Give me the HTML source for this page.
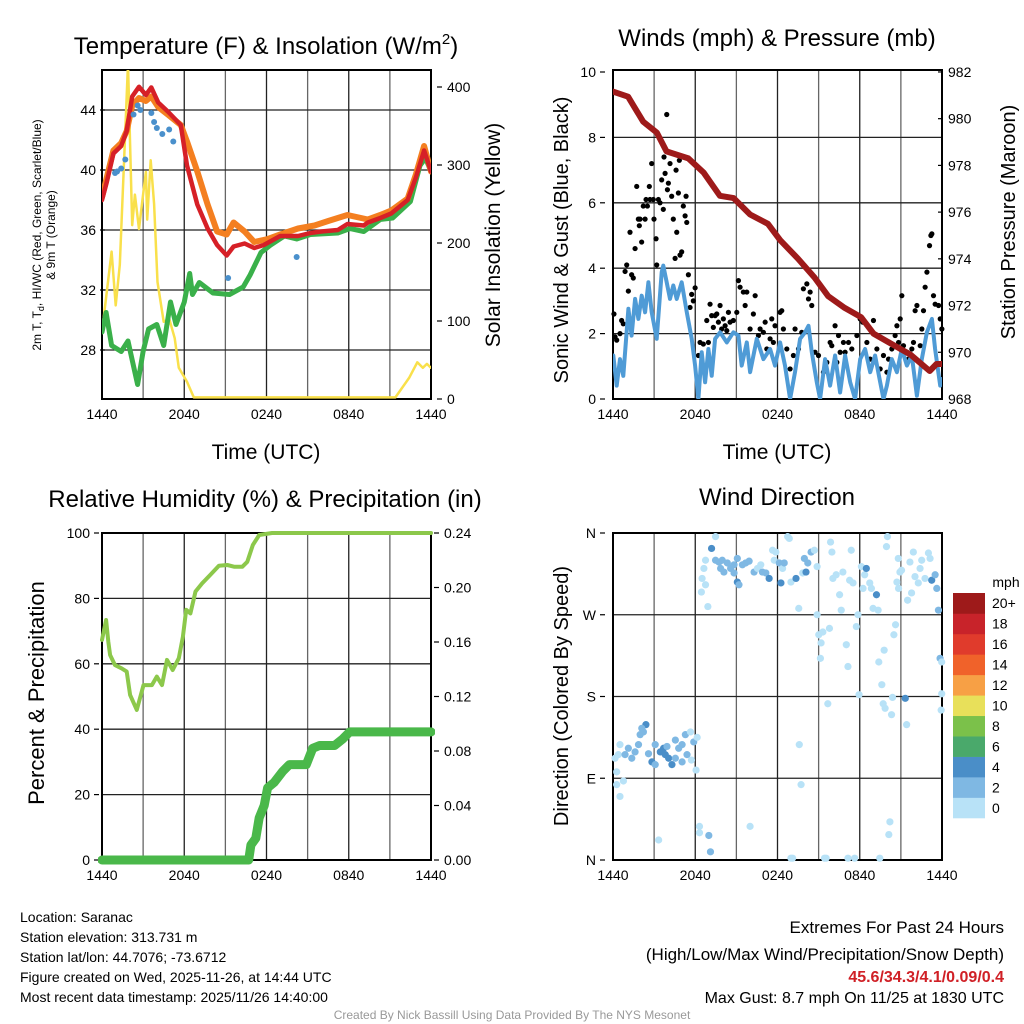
<!DOCTYPE html>
<html><head><meta charset="utf-8">
<style>
html,body{margin:0;padding:0;background:#fff;}
svg{display:block;font-family:"Liberation Sans",sans-serif;}
</style></head>
<body>
<svg id="chart" width="1024" height="1024" viewBox="0 0 1024 1024" xmlns="http://www.w3.org/2000/svg">
<defs>
<clipPath id="c1"><rect x="102" y="70" width="329" height="329"/></clipPath>
<clipPath id="c2"><rect x="613" y="70" width="329" height="329"/></clipPath>
<clipPath id="c3"><rect x="98" y="529" width="337" height="337"/></clipPath>
<clipPath id="c4"><rect x="608" y="529" width="340" height="337"/></clipPath>
</defs>
<g font-size="24" text-anchor="middle" fill="#000">
<text x="266" y="54">Temperature (F) &amp; Insolation (W/m<tspan font-size="15" dy="-10">2</tspan><tspan dy="10">)</tspan></text>
<text x="777" y="46">Winds (mph) &amp; Pressure (mb)</text>
<text x="265" y="507">Relative Humidity (%) &amp; Precipitation (in)</text>
<text x="777" y="505">Wind Direction</text>
</g>
<g font-size="21" text-anchor="middle">
<text x="266" y="459">Time (UTC)</text>
<text x="777" y="459">Time (UTC)</text>
<text transform="translate(500,235) rotate(-90)">Solar Insolation (Yellow)</text>
<text transform="translate(568,240) rotate(-90)" font-size="20">Sonic Wind &amp; Gust (Blue, Black)</text>
<text transform="translate(1015,222) rotate(-90)" font-size="20">Station Pressure (Maroon)</text>
<text transform="translate(568,696) rotate(-90)" font-size="20">Direction (Colored By Speed)</text>
<text transform="translate(44,693) rotate(-90)" font-size="22">Percent &amp; Precipitation</text>
</g>
<g font-size="12" text-anchor="middle">
<text transform="translate(41,235) rotate(-90)">2m T, T<tspan font-size="9" dy="3">d</tspan><tspan dy="-3">, HI/WC (Red, Green, Scarlet/Blue)</tspan></text>
<text transform="translate(55,235) rotate(-90)">&amp; 9m T (Orange)</text>
</g>
<g font-size="14" fill="#000">
<text x="20" y="922">Location: Saranac</text>
<text x="20" y="942">Station elevation: 313.731 m</text>
<text x="20" y="962">Station lat/lon: 44.7076; -73.6712</text>
<text x="20" y="982">Figure created on Wed, 2025-11-26, at 14:44 UTC</text>
<text x="20" y="1002">Most recent data timestamp: 2025/11/26 14:40:00</text>
</g>
<g text-anchor="end">
<text x="1004" y="933" font-size="17">Extremes For Past 24 Hours</text>
<text x="1004" y="960" font-size="17">(High/Low/Max Wind/Precipitation/Snow Depth)</text>
<text x="1004" y="982" font-size="16" font-weight="bold" fill="#d02026">45.6/34.3/4.1/0.09/0.4</text>
<text x="1004" y="1003" font-size="16">Max Gust: 8.7 mph On 11/25 at 1830 UTC</text>
</g>
<text x="512" y="1019" font-size="12" fill="#999" text-anchor="middle">Created By Nick Bassill Using Data Provided By The NYS Mesonet</text>
<g id="g1"></g><g id="g2"></g><g id="g3"></g><g id="g4"></g>
</svg>
<script>
// ---------- shared ----------
const timeTickHours = [0, 6, 12, 18, 24];
const timeTickLabels = ["1440", "2040", "0240", "0840", "1440"];

// ---------- panel 1: temperature ----------
const tempTicks = [28, 32, 36, 40, 44];
const solarTicks = [0, 100, 200, 300, 400];
const tHours = [0,0.35,0.83,1.4,1.8,2.2,2.7,3.2,3.6,4.1,4.8,5.75,6.2,6.95,7.7,8.4,9.1,9.6,10.4,11.1,11.8,13,14.3,15.2,16,17.2,17.9,19.1,19.4,20.3,21.1,22.3,22.9,23.5,24];
const tValues = [38.0,39.2,41.1,41.6,42.6,44.9,45.55,45.0,45.5,44.5,43.9,43.0,40.3,37.7,36.1,35.0,34.3,34.9,35.1,34.8,35.0,35.6,35.6,35.8,35.9,36.0,36.4,36.3,36.5,36.8,37.1,38.0,39.5,41.3,39.9];
const t9Hours = [0,0.35,0.83,1.4,1.8,2.2,2.7,3.2,3.6,4.1,4.8,5.75,6.2,6.95,7.7,8.4,9.1,9.6,10.4,11.1,12.1,13,14.3,15.5,16.5,17.9,19.4,20.3,21.1,22.3,22.9,23.5,24];
const t9Values = [38.2,39.5,41.3,41.8,42.6,44.3,44.8,44.6,44.9,44.2,43.7,43.0,41.9,39.9,37.7,35.9,35.7,36.5,35.9,35.2,35.4,35.7,36.1,36.3,36.6,37.0,36.7,37.0,37.3,38.1,39.7,41.6,39.9];
const tdHours = [0,0.3,0.7,1.4,1.9,2.6,3,3.4,4,4.5,5,5.4,6,6.4,6.6,7.1,8.1,9.3,10.3,10.8,11.6,12.3,13.3,14.2,15.2,17.2,18.1,19.1,20.3,21.2,22.5,23.2,23.6,24];
const tdValues = [29.2,30.5,28.3,27.9,28.6,25.7,27.9,29.4,29.7,28.3,31.2,29.7,31.2,33.1,31.7,32.5,31.8,31.7,32.2,33.0,34.5,35.0,35.6,35.4,35.7,35.8,36.1,35.9,36.7,36.8,37.9,40.3,40.8,39.9];
const hiHours = [0.95,1.1,1.4,1.7,2.3,2.6,2.8,3.6,3.8,4.0,4.4,4.9,5.2,9.2,14.2];
const hiValues = [39.8,39.9,40.1,40.7,43.7,44.3,44.0,43.8,43.2,42.8,42.4,42.7,41.9,32.8,34.2];
const solarHours = [0,0.7,1,1.3,1.6,1.9,2.2,2.4,2.7,2.95,3.2,3.3,3.55,3.8,4.05,4.5,4.9,5.3,5.6,6.2,6.7,21.4,22.4,23,23.4,23.7,24];
const solarValues = [86,189,120,172,300,430,223,262,218,255,291,230,306,250,150,99,103,78,40,22,2,2,27,47,40,45,40];

// ---------- panel 2: winds ----------
const windTicks = [0, 2, 4, 6, 8, 10];
const pressTicks = [968, 970, 972, 974, 976, 978, 980, 982];
const pHours = [0,1.1,2.2,3.2,3.9,4.7,5.5,6.6,7.8,8.8,10,11.3,12.2,13.5,14.7,15.7,16.9,18.1,19,20.5,21.7,23.1,23.6,24];
const pValues = [981.16,980.94,979.87,979.4,978.6,978.45,978.3,977.7,976.7,976.6,975.9,975.5,974.8,974.0,973.2,972.4,971.9,971.5,970.8,970.3,969.9,969.2,969.5,969.5];
const windHours = [0.02,0.27,0.51,0.75,1.12,1.36,1.61,1.85,2.09,2.34,2.58,2.82,3.19,3.55,3.67,3.92,4.16,4.4,4.65,5.01,5.38,5.74,5.99,6.23,6.47,6.72,6.96,7.2,7.45,7.81,8.3,8.78,9.15,9.39,9.76,10.0,10.49,10.97,11.46,11.82,12.19,12.55,12.92,13.28,13.65,14.01,14.26,14.5,14.87,15.11,15.47,15.84,16.2,16.57,16.93,17.3,17.66,18.03,18.39,18.76,19.12,19.49,19.73,19.98,20.34,20.71,21.07,21.44,21.8,22.17,22.53,22.9,23.26,23.5,23.87,24];
const windValues = [1.33,0.41,1.22,0.71,2.76,1.94,3.06,2.45,3.16,2.65,3.57,2.65,1.84,3.88,4.08,3.57,3.06,3.47,3.06,3.57,2.65,1.84,1.02,0,1.43,0.51,1.53,0.71,1.84,2.04,1.73,2.04,1.94,1.02,1.73,0.82,1.84,1.22,1.53,1.02,1.73,1.02,0,0.82,1.84,2.04,2.24,1.43,0.51,0,1.22,0.41,1.33,0.2,1.33,0.51,0,1.22,1.53,0.82,1.33,0.51,0,0.41,1.22,0.82,1.53,1.02,1.33,0.1,1.22,2.04,2.45,1.53,0.41,0.61];
const gustHours = [0.07,0.15,0.27,0.51,0.63,0.75,0.88,1.0,1.12,1.24,1.36,1.48,1.61,1.73,1.85,1.92,1.97,2.09,2.21,2.34,2.41,2.51,2.65,2.7,2.82,2.94,2.99,3.14,3.19,3.31,3.43,3.55,3.67,3.72,3.8,3.92,3.97,4.04,4.16,4.28,4.4,4.53,4.6,4.65,4.77,4.84,4.89,5.01,5.13,5.26,5.33,5.38,5.5,5.62,5.74,5.86,5.99,
6.23,6.35,6.59,6.84,6.96,7.08,7.2,7.32,7.45,7.57,7.69,7.81,7.93,8.05,8.18,8.3,8.42,8.54,8.78,9.03,9.15,9.27,9.51,9.64,9.76,10.0,10.24,10.37,10.61,10.73,10.97,11.1,11.22,11.46,11.58,11.7,11.82,12.19,12.31,12.43,12.68,12.92,13.16,13.28,13.53,13.77,13.89,14.14,14.26,14.38,14.5,14.74,14.99,
15.35,15.6,15.84,15.96,16.2,16.33,16.45,16.57,16.81,16.93,17.18,17.42,17.79,18.03,18.22,18.52,18.76,19.0,19.25,19.49,19.73,19.98,20.1,20.34,20.58,20.71,20.83,20.95,21.07,21.19,21.44,21.56,21.8,21.92,22.04,22.17,22.41,22.53,22.65,22.77,22.9,23.09,23.19,23.26,23.38,23.5,23.75,23.87,23.99];
const gustValues = [2.6,1.9,1.8,2.0,2.4,2.3,3.9,4.1,3.3,5.1,3.8,3.7,4.6,6.5,5.5,5.3,5.5,4.8,5.9,5.5,6.1,5.9,6.5,6.1,7.2,6.1,5.5,4.9,4.1,6.1,6.0,6.7,5.8,7.4,6.9,8.7,6.4,6.6,7.2,6.2,5.5,4.3,7.0,5.1,6.3,7.3,4.4,4.5,5.9,5.6,6.2,5.4,3.8,2.8,3.2,3.0,3.4,
1.33,1.73,1.68,2.4,1.73,2.9,2.55,2.19,2.55,2.6,2.35,2.86,2.14,2.45,2.24,2.09,2.65,2.35,2.4,2.65,3.62,3.42,3.27,2.86,3.27,2.14,2.6,3.16,1.94,2.14,2.04,2.35,1.53,1.84,2.45,1.73,2.24,2.65,2.7,2.14,1.53,0.92,1.33,2.14,1.53,2.04,3.37,3.52,3.06,3.27,2.86,1.43,1.33,
0.82,1.12,1.73,1.63,2.24,1.12,1.94,1.43,1.73,1.43,1.73,1.53,1.94,2.45,2.35,1.73,1.22,2.4,1.53,0.92,1.33,0.82,1.22,1.53,1.94,2.24,1.73,2.45,3.16,1.63,1.43,1.22,1.53,1.73,2.7,2.86,1.63,2.14,2.7,3.42,3.88,4.69,5.0,5.05,3.16,2.9,2.86,2.45,2.14];

// ---------- panel 3: humidity ----------
const rhTicks = [0, 20, 40, 60, 80, 100];
const precipTicks = [0, 0.04, 0.08, 0.12, 0.16, 0.20, 0.24];
const rhHours = [0,0.3,0.46,0.59,0.95,1.44,1.8,2.05,2.54,3.03,3.64,4.0,4.38,4.74,5.16,5.6,5.9,6.14,6.45,6.82,7.3,7.9,8.53,9.14,9.63,10.24,10.6,11.0,11.47,12.4,24];
const rhValues = [67.3,73.4,66.8,62.7,59.6,58.6,57.6,50.5,45.9,53.5,53.5,56.1,53.5,61.2,58.1,61.7,68.3,76.5,75.4,82.1,84.6,87.2,90.0,90.2,89.7,89.7,91.2,96.3,99.4,100,100];
const prHours = [0,10.7,10.86,11.22,11.47,11.83,12.08,12.57,13.18,13.67,14.9,15.37,15.87,16.97,17.58,18.07,24];
const prValues = [0,0,0.011,0.016,0.031,0.040,0.053,0.057,0.065,0.070,0.070,0.082,0.084,0.084,0.089,0.094,0.094];

// ---------- panel 4: wind direction ----------
const dirTicks = [0, 90, 180, 270, 360];
const dirTickLabels = ["N", "E", "S", "W", "N"];
const speedBins = ["0", "2", "4", "6", "8", "10", "12", "14", "16", "18", "20+"];
const speedColors = ["#b8e2f7","#7fb8e3","#4a8ec8","#4aa96b","#7bc14a","#e8e05a","#f7a045","#f0622a","#e03b2c","#c8232a","#9e1a1a"];
const dirHours = [0.15,0.39,0.27,0.51,0.76,0.51,0.27,0.88,1.12,1.37,1.61,1.86,1.98,2.22,2.4,2.1,2.59,2.84,3.08,3.08,3.45,3.69,3.81,4.06,4.3,3.94,4.55,4.55,4.79,5.04,5.28,5.04,5.4,5.65,5.72,5.89,6.14,6.06,
6.45,6.5,6.63,6.75,6.75,6.92,7.19,7.48,7.48,7.73,7.85,7.97,8.09,8.34,8.58,8.83,8.83,9.07,9.07,9.19,9.44,9.68,9.93,10.29,10.54,10.78,10.9,11.15,11.39,11.64,11.76,11.88,12.13,12.25,12.37,12.49,12.74,12.86,12.98,13.35,13.55,13.84,13.96,14.08,14.21,14.45,14.69,14.89,
14.89,15.01,15.18,15.13,15.31,15.67,15.79,15.87,15.97,16.04,16.28,16.53,16.65,16.77,17.02,17.14,17.26,17.38,17.51,17.75,17.87,17.95,18.12,18.24,18.36,18.48,18.73,18.85,18.97,19.22,19.34,19.39,19.61,19.78,19.71,19.85,20.02,19.95,20.32,20.39,20.49,20.61,20.71,20.83,20.93,21.05,20.81,21.32,21.42,21.49,21.66,21.78,21.91,22.03,22.27,22.4,22.52,22.76,23.01,23.13,23.25,23.5,23.62,23.74,23.86,23.98,23.98,23.94,
3.33,6.31,6.31,6.99,7.11,10.0,12.98,13.72,13.59,13.1,15.43,15.55,17.14,17.63,19.46,20.2,20.12];
const dirValues = [112,116,97,127,87,70,83,116,123,112,119,127,138,141,149,145,117,108,127,105,119,123,116,112,105,125,132,112,123,127,138,108,116,141,110,130,135,99,
295,310,321,330,303,279,343,356,330,328,321,330,317,327,321,316,325,306,332,303,325,327,329,317,321,325,317,316,310,341,330,339,327,305,321,327,356,354,306,310,277,316,332,317,327,339,341,323,
270,248,239,222,251,172,255,350,339,310,314,292,275,317,237,213,308,341,305,257,270,182,323,299,314,321,305,299,277,292,275,218,193,231,172,167,356,345,160,179,248,259,306,299,317,319,332,178,149,286,328,294,339,312,305,321,330,310,338,332,308,314,299,275,222,218,183,165,
22,37,30,27,9,37,2,83,127,2,2,2,2,2,2,42,28];
const dirSpeeds = [1,1,1,1,1,1,1,3,3,3,3,3,3,3,5,3,3,5,3,3,5,5,5,5,5,3,3,3,3,3,3,3,3,1,1,3,1,1,
1,1,1,1,1,1,5,1,3,3,3,3,3,3,3,3,3,5,3,3,3,3,3,3,1,1,3,3,5,1,1,1,3,5,1,3,1,1,1,5,1,1,3,5,3,3,1,1,
1,1,1,1,1,1,1,1,1,1,1,1,1,1,1,1,1,1,1,1,1,1,1,1,1,5,1,1,1,5,1,1,1,1,1,1,1,1,1,1,1,1,1,1,1,1,1,5,1,1,1,1,1,1,1,1,1,1,1,1,5,3,3,3,3,1,1,1,1,1,1,3,
3,1,1,1,1,1,1,1,1,1,1,1,1,1,1,1,1];

// ---------- drawing ----------
const NS = "http://www.w3.org/2000/svg";
function mk(parent, tag, attrs) {
  const el = document.createElementNS(NS, tag);
  for (const k in attrs) el.setAttribute(k, attrs[k]);
  parent.appendChild(el);
  return el;
}
function pts(hs, vs, fx, fy) { return hs.map((h, i) => fx(h).toFixed(1) + "," + fy(vs[i]).toFixed(1)).join(" "); }
function speedColor(s) { return speedColors[Math.min(10, Math.floor(s / 2))]; }

function frame(g, L, T, W, H, xf, hLines, nm) {
  for (let h = 0; h <= 24; h += 3) {
    const l = mk(g, "line", {x1: xf(h), x2: xf(h), y1: T, y2: T + H, stroke: (h % 6 === 0) ? "#222" : "#666", "stroke-width": 1.3});
    
    
  }
  hLines.forEach(y => {
    const l = mk(g, "line", {x1: L, x2: L + W, y1: y, y2: y, stroke: "#222", "stroke-width": 1.3});
    
    
  });
  const r = mk(g, "rect", {x: L, y: T, width: W, height: H, fill: "none", stroke: "#000", "stroke-width": 2});
  
  
  timeTickHours.forEach((h, i) => {
    const t = mk(g, "text", {x: xf(h), y: T + H + 20, "font-size": 14, "text-anchor": "middle"});
    t.textContent = timeTickLabels[i];
    
    
  });
}
function yLabels(g, ticks, labels, yf, x, anchor, nm) {
  ticks.forEach((v, i) => {
    const t = mk(g, "text", {x: x, y: yf(v) + 5, "font-size": 14, "text-anchor": anchor});
    t.textContent = labels[i];
    
    
    const tk = mk(g, "line", {x1: anchor === "end" ? x + 4 : x - 10, x2: anchor === "end" ? x + 9 : x - 5, y1: yf(v), y2: yf(v), stroke: "#000", "stroke-width": 1.2});
    
    
  });
}
function line(g, hs, vs, fx, fy, color, w, nm, clip) {
  const p = mk(g, "polyline", {points: pts(hs, vs, fx, fy), fill: "none", stroke: color, "stroke-width": w, "stroke-linejoin": "round", "stroke-linecap": "round", "clip-path": clip});
  
  
}

// panel 1
{
  const g = document.getElementById("g1");
  const x = h => 102 + h * 329 / 24, yT = v => 350 - (v - 28) * 15, yS = w => 399 - w * 0.78;
  frame(g, 102, 70, 329, 329, x, tempTicks.map(yT), "temp");
  yLabels(g, tempTicks, tempTicks.map(String), yT, 96, "end", "temp-y-tick-label");
  yLabels(g, solarTicks, solarTicks.map(String), yS, 447, "start", "solar-y-tick-label");
  line(g, solarHours, solarValues, x, yS, "#f9e04b", 2.5, "insolation-line", "url(#c1)");
  line(g, tdHours, tdValues, x, yT, "#3ab04a", 5, "dewpoint-line", "url(#c1)");
  line(g, t9Hours, t9Values, x, yT, "#f47f20", 6, "temp-9m-line", "url(#c1)");
  line(g, tHours, tValues, x, yT, "#d62027", 4.5, "temp-2m-line", "url(#c1)");
  hiHours.forEach((h, i) => {
    const c = mk(g, "circle", {cx: x(h), cy: yT(hiValues[i]), r: 3, fill: "#4a90cc"});
    
    
  });
}
// panel 2
{
  const g = document.getElementById("g2");
  const x = h => 613 + h * 329 / 24, yW = v => 399 - v * 32.7, yP = p => 399 - (p - 968) * 23.36;
  frame(g, 613, 70, 329, 329, x, windTicks.slice(1, 5).map(yW), "winds");
  yLabels(g, windTicks, windTicks.map(String), yW, 596, "end", "wind-y-tick-label");
  yLabels(g, pressTicks, pressTicks.map(String), yP, 948, "start", "pressure-y-tick-label");
  gustHours.forEach((h, i) => {
    const c = mk(g, "circle", {cx: x(h), cy: yW(gustValues[i]), r: 2.6, fill: "#000"});
    
    
  });
  line(g, windHours, windValues, x, yW, "#4f9bd6", 4, "wind-speed-line", "url(#c2)");
  line(g, pHours, pValues, x, yP, "#9e1a1a", 6, "pressure-line", "url(#c2)");
}
// panel 3
{
  const g = document.getElementById("g3");
  const x = h => 102 + h * 329 / 24, yR = r => 860 - r * 3.27, yPr = p => 860 - p / 0.24 * 327;
  frame(g, 102, 533, 329, 327, x, rhTicks.map(yR), "humidity");
  yLabels(g, rhTicks, rhTicks.map(String), yR, 90, "end", "rh-y-tick-label");
  yLabels(g, precipTicks, precipTicks.map(v => v.toFixed(2)), yPr, 444, "start", "precip-y-tick-label");
  line(g, rhHours, rhValues, x, yR, "#8cc84b", 4, "humidity-line", "url(#c3)");
  line(g, prHours, prValues, x, yPr, "#4ab84a", 9, "precipitation-line", "url(#c3)");
}
// panel 4
{
  const g = document.getElementById("g4");
  const x = h => 613 + h * 329 / 24, yD = d => 860 - d * 327 / 360;
  frame(g, 613, 533, 329, 327, x, dirTicks.map(yD), "direction");
  yLabels(g, dirTicks, dirTickLabels, yD, 596, "end", "direction-y-tick-label");
  dirHours.forEach((h, i) => {
    const c = mk(g, "circle", {cx: x(h), cy: yD(dirValues[i]), r: 3.6, fill: speedColor(dirSpeeds[i]), "clip-path": "url(#c4)"});
    
    
  });
  const hdr = mk(g, "text", {x: 1006, y: 587, "font-size": 14, "text-anchor": "middle"});
  hdr.textContent = "mph";
  
  
  const bh = 225 / speedBins.length;
  speedBins.forEach((lab, i) => {
    const top = 818 - (i + 1) * bh;
    const r = mk(g, "rect", {x: 953, y: top, width: 32, height: bh + 0.3, fill: speedColors[i]});
    
    
    const t = mk(g, "text", {x: 992, y: top + bh / 2 + 5, "font-size": 14});
    t.textContent = lab;
    
    
  });
}
</script>
</body></html>
